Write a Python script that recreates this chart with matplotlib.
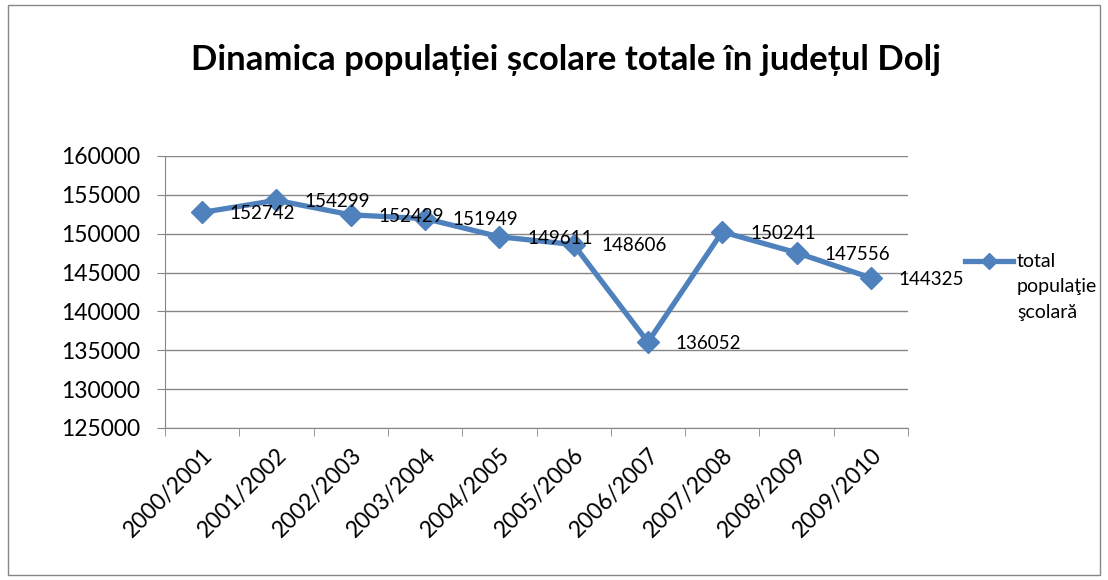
import matplotlib
matplotlib.use('Agg')
import matplotlib.pyplot as plt
import matplotlib.transforms as mtransforms
from matplotlib.patches import Rectangle
from matplotlib.lines import Line2D

plt.rcParams['font.family'] = ['Lato', 'DejaVu Sans']

# data
years = ['2000/2001', '2001/2002', '2002/2003', '2003/2004', '2004/2005',
         '2005/2006', '2006/2007', '2007/2008', '2008/2009', '2009/2010']
total = [152742, 154299, 152429, 151949, 149611, 148606, 136052, 150241, 147556, 144325]
yticks = [125000, 130000, 135000, 140000, 145000, 150000, 155000, 160000]

title = 'Dinamica populației școlare totale în județul Dolj'
legend_label = 'total\npopulaţie\nşcolară'
blue = '#4F81BD'
grid_col = '#868686'

fig = plt.figure(figsize=(11.08, 5.8), dpi=100)
fig.patches.append(Rectangle((0.007, 0.008), 0.986, 0.984, transform=fig.transFigure,
                             fill=False, edgecolor='#868686', linewidth=1))

ax = fig.add_axes([165 / 1108, 1 - 428 / 580, 743 / 1108, 272 / 580])
x = list(range(len(years)))
ax.plot(x, total, color=blue, linewidth=3.8, marker='D', markersize=11,
        markerfacecolor=blue, markeredgecolor=blue, zorder=3)

for xi, v in zip(x, total):
    ax.annotate(str(v), (xi, v), xytext=(20, -1), textcoords='offset points',
                fontsize=13.5, va='center', ha='left', color='black', zorder=4)

ax.set_xlim(-0.5, len(years) - 0.5)
ax.set_ylim(125000, 160000)
ax.set_yticks(yticks)
ax.set_yticklabels([str(t) for t in yticks], fontsize=16.5)
ax.yaxis.grid(True, color=grid_col, linewidth=1)
ax.set_axisbelow(True)
ax.tick_params(axis='y', length=6, color=grid_col, pad=12)

ax.set_xticks(x)
ax.set_xticklabels(years, rotation=45, ha='right', rotation_mode='anchor', fontsize=16.5)
shift = mtransforms.ScaledTranslation(6 / 100, 0, fig.dpi_scale_trans)
for lbl in ax.get_xticklabels():
    lbl.set_transform(lbl.get_transform() + shift)
ax.set_xticks([i - 0.5 for i in range(len(years) + 1)], minor=True)
ax.tick_params(axis='x', which='major', length=0, pad=12)
ax.tick_params(axis='x', which='minor', length=6, color=grid_col)

for s in ['top', 'right']:
    ax.spines[s].set_visible(False)
ax.spines['left'].set_color(grid_col)
ax.spines['bottom'].set_color(grid_col)

fig.text(566 / 1108, 1 - 60 / 580, title, fontsize=25, fontweight='bold',
         ha='center', va='center')

# legend
fig.add_artist(Line2D([965 / 1108, 1013 / 1108], [1 - 261 / 580, 1 - 261 / 580],
                      color=blue, linewidth=3.8, transform=fig.transFigure))
fig.add_artist(Line2D([989 / 1108], [1 - 261 / 580], color=blue, marker='D',
                      markersize=8, transform=fig.transFigure))
fig.text(1017 / 1108, 1 - 253 / 580, legend_label, fontsize=14, ha='left', va='top',
         linespacing=1.6)

fig.savefig('out.png', dpi=100)
